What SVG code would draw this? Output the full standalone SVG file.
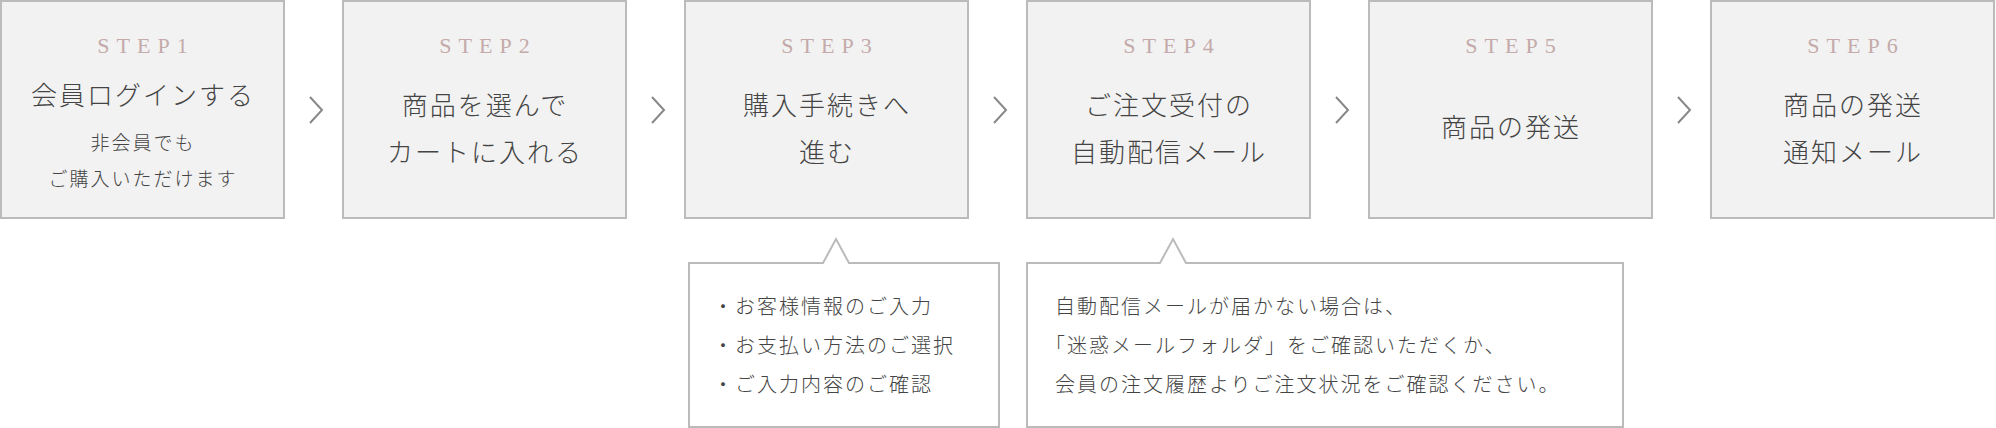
<svg xmlns="http://www.w3.org/2000/svg" width="1996" height="428" viewBox="0 0 1996 428">
<style>
.box{fill:#f2f2f2;stroke:#bbb;stroke-width:2}
.co{fill:#fff;stroke:#bbb;stroke-width:2}
.step{font-family:"Liberation Serif",serif;font-size:22px;fill:#c4aaaa;letter-spacing:7px;text-anchor:middle}
.t{font-family:"Noto Sans CJK JP",sans-serif;font-weight:300;font-size:26px;fill:#444;text-anchor:middle;letter-spacing:2px}
.s{font-family:"Noto Sans CJK JP",sans-serif;font-weight:300;font-size:19px;fill:#444;text-anchor:middle;letter-spacing:2px}
.c{font-family:"Noto Sans CJK JP",sans-serif;font-weight:300;font-size:20px;fill:#444;letter-spacing:2px}
.arr{fill:none;stroke:#888;stroke-width:2}
</style>
<g id="step1"><rect class="box" x="1" y="1" width="283" height="217"/><text class="step" x="146" y="53">STEP1</text><text class="t" x="143" y="105">会員ログインする</text><text class="s" x="143" y="150">非会員でも</text><text class="s" x="143" y="186">ご購入いただけます</text></g>
<g id="step2"><rect class="box" x="343" y="1" width="283" height="217"/><text class="step" x="488" y="53">STEP2</text><text class="t" x="485" y="115">商品を選んで</text><text class="t" x="485" y="162">カートに入れる</text></g>
<g id="step3"><rect class="box" x="685" y="1" width="283" height="217"/><text class="step" x="830" y="53">STEP3</text><text class="t" x="827" y="115">購入手続きへ</text><text class="t" x="827" y="162">進む</text></g>
<g id="step4"><rect class="box" x="1027" y="1" width="283" height="217"/><text class="step" x="1172" y="53">STEP4</text><text class="t" x="1169" y="115">ご注文受付の</text><text class="t" x="1169" y="162">自動配信メール</text></g>
<g id="step5"><rect class="box" x="1369" y="1" width="283" height="217"/><text class="step" x="1514" y="53">STEP5</text><text class="t" x="1511" y="137">商品の発送</text></g>
<g id="step6"><rect class="box" x="1711" y="1" width="283" height="217"/><text class="step" x="1856" y="53">STEP6</text><text class="t" x="1853" y="115">商品の発送</text><text class="t" x="1853" y="162">通知メール</text></g>
<g id="connectors">
<path class="arr" d="M310 97 L322 110 L310 123"/>
<path class="arr" d="M652 97 L664 110 L652 123"/>
<path class="arr" d="M994 97 L1006 110 L994 123"/>
<path class="arr" d="M1336 97 L1348 110 L1336 123"/>
<path class="arr" d="M1678 97 L1690 110 L1678 123"/>
</g>
<g id="note1"><path class="co" d="M689 263 H823 L836 239 L849 263 H999 V427 H689 Z"/>
<text class="c" x="713" y="314">・お客様情報のご入力</text><text class="c" x="713" y="353">・お支払い方法のご選択</text><text class="c" x="713" y="392">・ご入力内容のご確認</text></g>
<g id="note2"><path class="co" d="M1027 263 H1160 L1173 239 L1186 263 H1623 V427 H1027 Z"/>
<text class="c" x="1055" y="314">自動配信メールが届かない場合は、</text><text class="c" x="1045" y="353">「迷惑メールフォルダ」をご確認いただくか、</text><text class="c" x="1055" y="392">会員の注文履歴よりご注文状況をご確認ください。</text></g>
</svg>
